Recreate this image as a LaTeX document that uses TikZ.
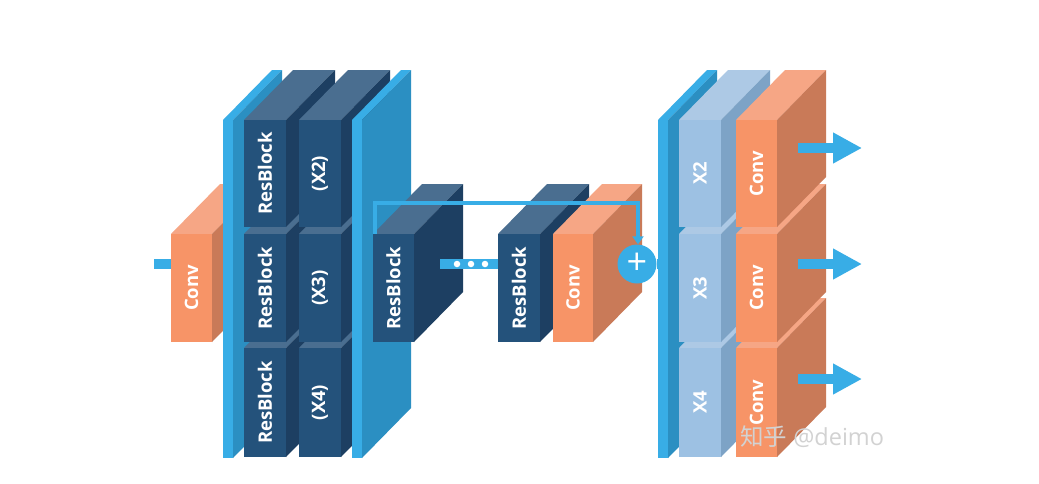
\documentclass[tikz,border=0pt]{standalone}
\usepackage{fontspec}
\setmainfont{Open Sans}
\newfontfamily\cjk{Noto Sans CJK SC}
\usetikzlibrary{arrows.meta}
\definecolor{pfront}{HTML}{38ADE6}
\definecolor{pside}{HTML}{2B8FC2}
\definecolor{nfront}{HTML}{24527B}
\definecolor{nside}{HTML}{1D3F62}
\definecolor{ntop}{HTML}{4A6E90}
\definecolor{lfront}{HTML}{9DC1E3}
\definecolor{lside}{HTML}{7DA3C6}
\definecolor{ltop}{HTML}{ADC9E5}
\definecolor{ofront}{HTML}{F79467}
\definecolor{oside}{HTML}{C97A58}
\definecolor{otop}{HTML}{F6A685}
\definecolor{flow}{HTML}{38ADE6}
\definecolor{wmgrey}{HTML}{D2D2D2}
\tikzset{
  x=1pt,y=-1pt,
  face/.style={inner sep=0pt,outer sep=0pt,anchor=north west,text=white,font=\fontsize{18.5}{19}\selectfont\bfseries,align=center},
  flowline/.style={draw=flow,line width=10pt},
  thinflow/.style={draw=flow,line width=3.4pt},
  outarrow/.style={draw=flow,line width=10pt,-{Triangle[length=29pt,width=29pt,fill=flow]}},
  dotmark/.style={circle,fill=white,inner sep=0pt,minimum size=6.5pt},
  watermark/.style={text=wmgrey,font=\fontsize{23.5}{25}\selectfont,inner sep=0pt}
}
% name, x1, x2, y1, y2, front, side, top, text
\newcommand{\solidblock}[9]{%
  \fill[#8] (#2,#4) -- ({#2+49},{#4-50}) -- ({#3+49},{#4-50}) -- (#3,#4) -- cycle;
  \fill[#7] (#3,#4) -- ({#3+49},{#4-50}) -- ({#3+49},{#5-50}) -- (#3,#5) -- cycle;
  \node[face,fill=#6,minimum width={(#3-#2)*1pt},minimum height={(#5-#4)*1pt}] (#1) at (#2,#4) {\rotatebox{90}{#9}};
}
\begin{document}
\begin{tikzpicture}
\useasboundingbox (0,0) rectangle (1039,483);
\fill[white] (0,0) rectangle (1039,483);
% input
\coordinate (in) at (154,264);
\solidblock{conva}{171}{212}{234}{342}{ofront}{oside}{otop}{Conv}
\draw[flowline] (in) -- (conva.west |- in);
% left plate
\solidblock{platea}{223}{233}{120}{458}{pfront}{pside}{pfront}{}
% encoder blocks
\solidblock{rc}{244}{286}{348}{457}{nfront}{nside}{ntop}{ResBlock}
\solidblock{rb}{244}{286}{234}{342}{nfront}{nside}{ntop}{ResBlock}
\solidblock{ra}{244}{286}{120}{227}{nfront}{nside}{ntop}{ResBlock}
\solidblock{xc}{299}{341}{348}{457}{nfront}{nside}{ntop}{(X4)}
\solidblock{xb}{299}{341}{234}{342}{nfront}{nside}{ntop}{(X3)}
\solidblock{xa}{299}{341}{120}{227}{nfront}{nside}{ntop}{(X2)}
% right plate of encoder
\solidblock{plateb}{352}{362}{120}{458}{pfront}{pside}{pfront}{}
% middle
\solidblock{rm}{373}{414}{234}{342}{nfront}{nside}{ntop}{ResBlock}
\solidblock{rn}{498}{540}{234}{342}{nfront}{nside}{ntop}{ResBlock}
\solidblock{convb}{553}{593}{234}{342}{ofront}{oside}{otop}{Conv}
\coordinate (dotsstart) at (440,264);
\draw[flowline] (dotsstart) -- (rn.west |- dotsstart);
\node[dotmark] (d1) at (457,264) {};
\node[dotmark] (d2) at (471,264) {};
\node[dotmark] (d3) at (485,264) {};
% right plate
\solidblock{platec}{658}{668}{120}{458}{pfront}{pside}{pfront}{}
\solidblock{lc}{679}{721}{348}{457}{lfront}{lside}{ltop}{X4}
\solidblock{lb}{679}{721}{234}{342}{lfront}{lside}{ltop}{X3}
\solidblock{la}{679}{721}{120}{227}{lfront}{lside}{ltop}{X2}
\solidblock{oc}{736}{777}{348}{457}{ofront}{oside}{otop}{Conv}
\solidblock{ob}{736}{777}{234}{342}{ofront}{oside}{otop}{Conv}
\solidblock{oa}{736}{777}{120}{227}{ofront}{oside}{otop}{Conv}
% skip connection
\node[circle,fill=flow,inner sep=0pt,minimum size=39pt,text=white,font=\fontsize{36}{36}\selectfont] (plus) at (637,264) {\raisebox{1pt}{+}};
\draw[flowline] (plus.east) -- (platec.west |- plus.east);
\coordinate (skipstart) at (375,234);
\coordinate (skipa) at (375,203);
\coordinate (skipb) at (638,203);
\draw[thinflow,-{Triangle[length=8pt,width=11pt,fill=flow]}] (skipstart) -- (skipa) -- (skipb) -- (plus.north -| skipb);
% outputs
\coordinate (oa1) at (798,148);
\coordinate (oa2) at (862,148);
\coordinate (ob1) at (798,264);
\coordinate (ob2) at (862,264);
\coordinate (oc1) at (798,379);
\coordinate (oc2) at (862,379);
\draw[outarrow] (oa1) -- (oa2);
\draw[outarrow] (ob1) -- (ob2);
\draw[outarrow] (oc1) -- (oc2);
% watermark
\node[watermark,anchor=west] (wm) at (740,437) {{\cjk 知乎} @deimo};
\end{tikzpicture}
\end{document}
